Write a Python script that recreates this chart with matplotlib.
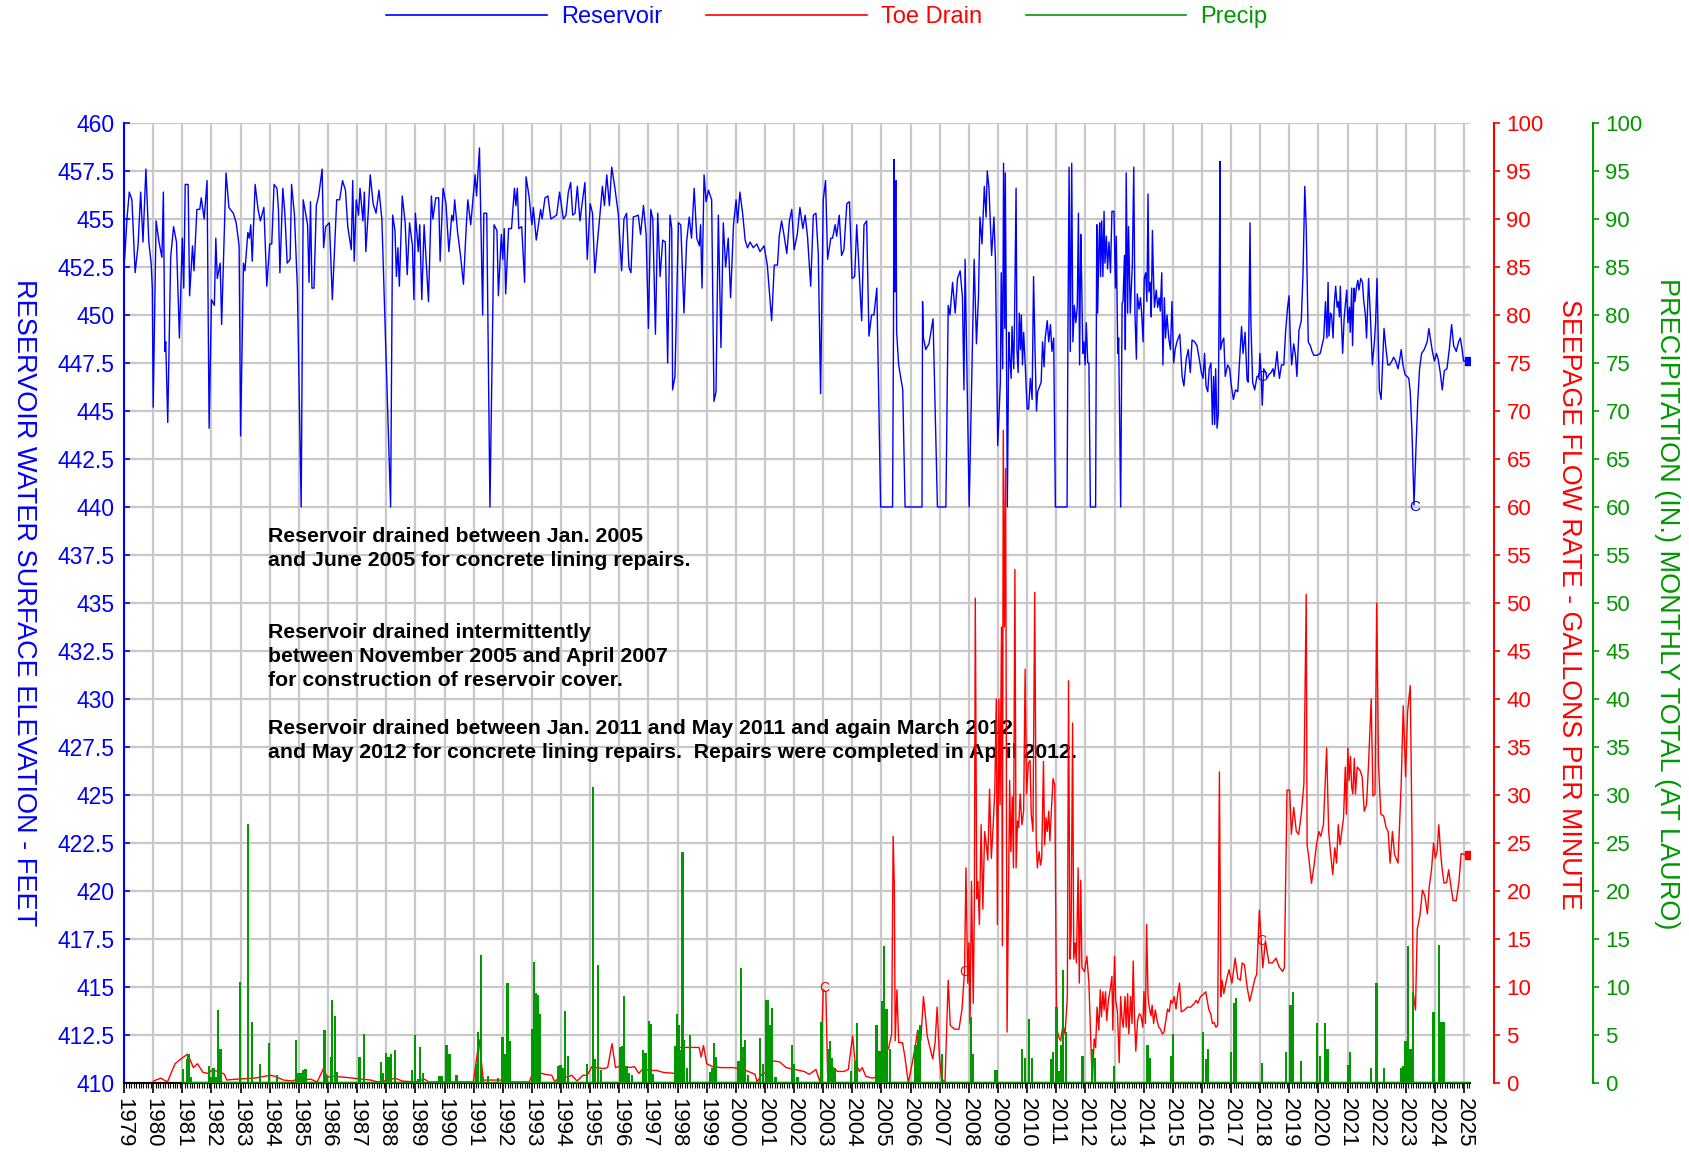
import numpy as np
import matplotlib.pyplot as plt
from matplotlib.lines import Line2D
from matplotlib.ticker import MultipleLocator

plt.rcParams['font.family'] = ['Liberation Sans', 'DejaVu Sans']

BLUE = '#0000ff'
RED = '#ff0000'
GREEN = '#009900'
GRID = '#c8c8c8'

# reservoir water surface elevation (ft)
reservoir = [
    (1979.02, 452.9), (1979.10, 455.0), (1979.18, 456.4), (1979.27, 456.0), (1979.38, 452.2), (1979.48, 453.6),
    (1979.57, 456.4), (1979.65, 453.8), (1979.75, 457.6), (1979.85, 453.8), (1979.93, 452.7), (1979.97, 451.4),
    (1980.00, 445.2), (1980.10, 454.9), (1980.20, 453.8), (1980.30, 453.0), (1980.35, 456.4), (1980.40, 448.1),
    (1980.43, 448.6), (1980.50, 444.4), (1980.60, 453.0), (1980.70, 454.6), (1980.80, 453.8), (1980.90, 448.8),
    (1981.00, 454.0), (1981.05, 451.4), (1981.10, 456.8), (1981.20, 456.8), (1981.25, 451.0), (1981.35, 453.6),
    (1981.40, 452.3), (1981.50, 455.5), (1981.60, 455.5), (1981.65, 456.1), (1981.75, 455.0), (1981.85, 457.0),
    (1981.92, 444.1), (1982.00, 450.8), (1982.10, 450.5), (1982.15, 454.0), (1982.20, 451.9), (1982.30, 452.7),
    (1982.35, 449.5), (1982.50, 457.4), (1982.60, 455.6), (1982.75, 455.3), (1982.85, 454.8), (1982.95, 453.6),
    (1983.00, 443.7), (1983.10, 452.7), (1983.15, 452.3), (1983.25, 454.3), (1983.30, 454.0), (1983.35, 454.7),
    (1983.40, 452.8), (1983.50, 456.8), (1983.60, 455.5), (1983.68, 454.9), (1983.80, 455.6), (1983.90, 451.5),
    (1984.00, 453.7), (1984.07, 453.7), (1984.15, 456.8), (1984.25, 456.6), (1984.30, 455.5), (1984.35, 452.2),
    (1984.45, 456.6), (1984.52, 455.3), (1984.60, 452.7), (1984.70, 452.9), (1984.75, 456.8), (1984.85, 455.2),
    (1984.95, 451.4), (1985.08, 440.0), (1985.15, 456.0), (1985.30, 454.7), (1985.35, 451.7), (1985.40, 455.9),
    (1985.45, 451.4), (1985.52, 451.4), (1985.60, 455.7), (1985.68, 456.2), (1985.80, 457.6), (1985.85, 453.5),
    (1985.92, 454.6), (1986.05, 454.8), (1986.15, 450.8), (1986.30, 456.0), (1986.40, 456.0), (1986.50, 457.0),
    (1986.60, 456.5), (1986.68, 454.6), (1986.80, 453.4), (1986.85, 457.0), (1986.90, 452.8), (1986.97, 456.0),
    (1987.05, 455.2), (1987.10, 456.6), (1987.20, 454.9), (1987.25, 456.4), (1987.30, 453.3), (1987.38, 455.3),
    (1987.45, 457.3), (1987.55, 455.8), (1987.65, 455.3), (1987.75, 456.5), (1987.85, 455.0), (1988.15, 440.0),
    (1988.22, 455.2), (1988.30, 454.4), (1988.35, 452.0), (1988.40, 453.5), (1988.45, 451.5), (1988.55, 456.2),
    (1988.65, 454.8), (1988.72, 452.1), (1988.80, 454.8), (1988.90, 453.6), (1988.95, 450.8), (1989.00, 455.3),
    (1989.10, 453.3), (1989.15, 454.7), (1989.22, 450.8), (1989.30, 454.7), (1989.45, 450.7), (1989.55, 456.2),
    (1989.60, 455.0), (1989.70, 456.1), (1989.80, 456.1), (1989.85, 452.8), (1989.95, 456.6), (1990.05, 455.8),
    (1990.15, 453.3), (1990.25, 455.2), (1990.30, 454.9), (1990.35, 456.0), (1990.45, 454.3), (1990.55, 453.1),
    (1990.65, 451.6), (1990.75, 454.7), (1990.80, 456.0), (1990.90, 454.7), (1991.00, 456.4), (1991.05, 457.3),
    (1991.10, 456.2), (1991.20, 458.7), (1991.31, 450.0), (1991.35, 455.3), (1991.45, 455.3), (1991.56, 440.0),
    (1991.70, 454.7), (1991.80, 454.4), (1991.85, 451.0), (1991.95, 454.2), (1992.00, 452.9), (1992.05, 454.5),
    (1992.10, 451.1), (1992.20, 454.5), (1992.30, 454.5), (1992.40, 456.6), (1992.45, 455.7), (1992.50, 456.6),
    (1992.55, 454.5), (1992.65, 454.6), (1992.75, 451.7), (1992.80, 457.2), (1992.90, 456.2), (1993.00, 454.7),
    (1993.05, 455.6), (1993.15, 453.9), (1993.30, 455.5), (1993.35, 455.0), (1993.45, 456.1), (1993.55, 456.2),
    (1993.65, 455.0), (1993.75, 455.1), (1993.85, 455.2), (1993.95, 456.4),
    (1994.08, 455.0), (1994.17, 455.2), (1994.25, 456.4), (1994.33, 456.9), (1994.40, 455.2), (1994.48, 455.3),
    (1994.56, 456.7), (1994.65, 454.9), (1994.74, 456.0), (1994.82, 456.9), (1994.90, 452.9), (1995.00, 455.8),
    (1995.08, 455.3), (1995.16, 452.2), (1995.25, 453.8), (1995.34, 455.3), (1995.42, 456.7), (1995.49, 455.7),
    (1995.57, 457.3), (1995.66, 455.7), (1995.74, 457.7), (1995.85, 456.6), (1995.97, 455.2), (1996.08, 452.3),
    (1996.16, 455.0), (1996.25, 455.3), (1996.33, 452.5), (1996.40, 452.2), (1996.48, 455.1), (1996.65, 455.2),
    (1996.73, 454.2), (1996.83, 455.7), (1996.92, 454.2), (1997.00, 449.3), (1997.08, 455.5), (1997.15, 455.0),
    (1997.24, 449.0), (1997.32, 455.3), (1997.40, 452.0), (1997.49, 453.9), (1997.58, 453.8), (1997.66, 447.5),
    (1997.74, 455.2), (1997.80, 454.5), (1997.83, 446.1), (1997.91, 446.8), (1998.03, 454.8), (1998.11, 454.7),
    (1998.22, 450.1), (1998.31, 453.8), (1998.40, 455.1), (1998.48, 454.0), (1998.57, 456.6), (1998.66, 454.0),
    (1998.75, 453.6), (1998.79, 454.7), (1998.84, 451.4), (1998.91, 457.3), (1998.98, 455.9), (1999.06, 456.5),
    (1999.17, 456.0), (1999.25, 445.5), (1999.32, 446.0), (1999.40, 455.2), (1999.49, 448.3), (1999.57, 454.8),
    (1999.65, 452.5), (1999.74, 454.0), (1999.82, 450.9), (1999.92, 454.7), (2000.01, 456.0), (2000.06, 454.8),
    (2000.14, 456.4), (2000.24, 455.2), (2000.32, 453.9), (2000.40, 453.5), (2000.49, 453.8), (2000.60, 453.5),
    (2000.72, 453.7), (2000.83, 453.3), (2000.97, 453.6), (2001.08, 452.6), (2001.23, 449.7), (2001.32, 452.6),
    (2001.43, 452.6), (2001.49, 454.1), (2001.57, 454.9), (2001.65, 454.2), (2001.75, 453.2), (2001.84, 454.9),
    (2001.92, 455.5), (2002.00, 453.4), (2002.11, 454.2), (2002.20, 455.6), (2002.30, 454.5), (2002.38, 455.2),
    (2002.46, 454.1), (2002.57, 451.5), (2002.66, 455.2), (2002.75, 455.3), (2002.83, 453.2), (2002.91, 445.9),
    (2003.00, 456.0), (2003.08, 457.0), (2003.15, 452.9), (2003.26, 454.0), (2003.32, 454.0), (2003.41, 454.7),
    (2003.46, 454.1), (2003.55, 455.2), (2003.63, 453.1), (2003.71, 453.4), (2003.81, 455.8), (2003.90, 455.9),
    (2003.99, 451.9), (2004.08, 452.0), (2004.15, 454.7), (2004.32, 449.7), (2004.40, 454.7), (2004.49, 454.9),
    (2004.57, 448.9), (2004.66, 450.0), (2004.74, 450.0), (2004.84, 451.4), (2004.97, 440.0), (2005.38, 440.0),
    (2005.41, 448.6), (2005.43, 458.1), (2005.46, 451.2), (2005.48, 456.6), (2005.50, 457.0), (2005.52, 449.1),
    (2005.59, 447.4), (2005.73, 446.1), (2005.81, 440.0), (2006.39, 440.0), (2006.41, 450.7), (2006.44, 448.8),
    (2006.52, 448.2), (2006.63, 448.5), (2006.77, 449.8), (2006.92, 440.0), (2007.21, 440.0), (2007.29, 450.5),
    (2007.35, 450.0), (2007.44, 451.7), (2007.53, 450.1), (2007.61, 451.9), (2007.70, 452.3), (2007.78, 450.9),
    (2007.83, 446.1), (2007.87, 452.9), (2008.01, 440.0), (2008.18, 452.9), (2008.26, 448.5), (2008.33, 451.0),
    (2008.38, 455.1), (2008.45, 453.7), (2008.53, 456.7), (2008.59, 455.1), (2008.63, 457.5), (2008.69, 456.6),
    (2008.78, 453.1), (2008.86, 455.1), (2008.91, 452.9), (2008.99, 443.2),
    (2009.08, 446.5), (2009.11, 452.2), (2009.16, 447.2), (2009.19, 457.9), (2009.23, 449.3), (2009.25, 457.4),
    (2009.29, 448.2), (2009.32, 440.0), (2009.37, 449.1), (2009.40, 447.9), (2009.45, 446.7), (2009.48, 449.4),
    (2009.54, 447.2), (2009.57, 450.1), (2009.62, 456.6), (2009.65, 448.2), (2009.69, 447.0), (2009.73, 450.1),
    (2009.77, 448.2), (2009.80, 450.0), (2009.84, 447.4), (2009.88, 449.1), (2009.94, 447.2), (2010.00, 445.1),
    (2010.05, 445.1), (2010.11, 446.7), (2010.17, 445.6), (2010.22, 452.0), (2010.27, 448.2), (2010.32, 445.0),
    (2010.36, 446.0), (2010.43, 446.3), (2010.48, 446.5), (2010.53, 448.6), (2010.58, 447.3), (2010.62, 448.8),
    (2010.69, 449.7), (2010.74, 448.6), (2010.80, 449.5), (2010.85, 448.1), (2010.91, 448.8), (2010.97, 440.0),
    (2011.37, 440.0), (2011.40, 449.1), (2011.44, 457.7), (2011.48, 448.1), (2011.53, 457.9), (2011.57, 448.6),
    (2011.62, 450.5), (2011.67, 449.6), (2011.72, 450.4), (2011.76, 455.3), (2011.80, 447.4), (2011.84, 454.2),
    (2011.87, 451.9), (2011.91, 448.0), (2011.95, 448.6), (2011.99, 447.4), (2012.03, 449.6), (2012.08, 447.5),
    (2012.12, 447.5), (2012.17, 440.0), (2012.35, 440.0), (2012.39, 454.7), (2012.42, 450.1), (2012.46, 453.4),
    (2012.49, 454.8), (2012.52, 452.0), (2012.56, 454.9), (2012.60, 452.0), (2012.64, 455.4), (2012.67, 452.7),
    (2012.72, 454.1), (2012.76, 452.4), (2012.81, 453.8), (2012.86, 452.2), (2012.91, 455.4), (2012.98, 455.4),
    (2013.03, 451.4), (2013.06, 454.1), (2013.11, 448.0), (2013.14, 448.8), (2013.21, 440.0), (2013.26, 450.6),
    (2013.29, 450.7), (2013.34, 453.1), (2013.37, 448.2), (2013.40, 457.4), (2013.45, 450.1), (2013.48, 454.6),
    (2013.54, 450.1), (2013.61, 452.6), (2013.66, 457.7), (2013.70, 450.1), (2013.75, 447.7), (2013.78, 451.1),
    (2013.84, 450.3), (2013.89, 450.9), (2013.93, 450.1), (2013.98, 448.6), (2014.02, 451.9), (2014.07, 452.2),
    (2014.11, 450.7), (2014.15, 456.3), (2014.18, 451.2), (2014.23, 451.7), (2014.26, 449.9), (2014.30, 454.4),
    (2014.33, 452.3), (2014.37, 450.4), (2014.43, 451.3), (2014.48, 450.4), (2014.53, 450.9), (2014.57, 450.2),
    (2014.62, 452.2), (2014.66, 447.4), (2014.71, 450.9), (2014.75, 448.8), (2014.80, 450.0), (2014.86, 448.8),
    (2014.92, 448.2), (2014.97, 450.7), (2015.03, 447.5), (2015.08, 448.2), (2015.14, 448.6), (2015.24, 449.0),
    (2015.32, 446.8), (2015.38, 446.3), (2015.46, 447.7), (2015.53, 448.2), (2015.60, 447.0), (2015.66, 448.7),
    (2015.75, 448.6), (2015.83, 448.4), (2015.91, 447.7), (2015.98, 447.0), (2016.04, 446.7), (2016.09, 448.0),
    (2016.14, 446.3), (2016.20, 446.0), (2016.25, 447.2), (2016.31, 447.5), (2016.36, 444.3), (2016.40, 446.8),
    (2016.44, 444.3), (2016.47, 447.2), (2016.52, 444.1), (2016.56, 444.8), (2016.60, 452.7), (2016.62, 458.0),
    (2016.64, 448.2), (2016.69, 448.6), (2016.75, 448.8), (2016.80, 446.8), (2016.88, 447.4), (2016.95, 447.2),
    (2017.01, 446.3), (2017.08, 445.6), (2017.15, 446.1), (2017.23, 446.0), (2017.32, 448.4), (2017.36, 449.4),
    (2017.41, 448.0), (2017.48, 449.1), (2017.55, 446.6), (2017.59, 446.5), (2017.65, 454.8), (2017.68, 449.6),
    (2017.74, 446.5), (2017.81, 446.1), (2017.89, 446.8), (2017.96, 446.8), (2017.99, 448.0), (2018.04, 446.7),
    (2018.07, 445.3), (2018.12, 447.2), (2018.19, 447.0), (2018.23, 446.7), (2018.30, 446.9), (2018.37, 447.0),
    (2018.44, 447.2), (2018.48, 446.8), (2018.53, 447.4), (2018.58, 448.1), (2018.61, 447.4), (2018.66, 446.7),
    (2018.73, 447.4), (2018.81, 447.4), (2018.87, 449.1), (2018.94, 450.4), (2018.99, 451.0), (2019.03, 448.9),
    (2019.08, 447.4), (2019.15, 448.5), (2019.21, 447.9), (2019.26, 446.8), (2019.33, 449.2), (2019.41, 449.7),
    (2019.47, 452.2), (2019.53, 456.7), (2019.58, 454.5), (2019.65, 448.6), (2019.72, 448.4), (2019.78, 448.1),
    (2019.84, 447.9), (2019.95, 447.9), (2020.06, 448.0), (2020.12, 448.4), (2020.18, 448.8), (2020.24, 450.7),
    (2020.29, 448.8), (2020.33, 451.7), (2020.36, 448.9), (2020.41, 450.1), (2020.45, 450.0), (2020.50, 448.8),
    (2020.54, 450.5), (2020.59, 451.5), (2020.64, 450.4), (2020.68, 450.7), (2020.72, 449.9), (2020.75, 451.5),
    (2020.78, 449.9), (2020.83, 448.0), (2020.88, 449.8), (2020.92, 450.5), (2020.97, 451.3), (2021.01, 449.6),
    (2021.06, 450.4), (2021.09, 449.1), (2021.14, 451.4), (2021.17, 448.4), (2021.22, 451.4), (2021.25, 450.7),
    (2021.30, 451.4), (2021.35, 451.8), (2021.39, 451.3), (2021.45, 451.9), (2021.51, 451.7), (2021.55, 450.8),
    (2021.61, 450.0), (2021.65, 448.8), (2021.72, 451.9), (2021.78, 450.0), (2021.85, 447.4), (2021.92, 448.6),
    (2021.96, 449.6), (2022.01, 451.9), (2022.04, 449.6), (2022.09, 446.1), (2022.15, 445.6), (2022.20, 447.4),
    (2022.25, 449.3), (2022.32, 448.2), (2022.38, 447.4), (2022.44, 447.4), (2022.52, 447.6), (2022.58, 447.8),
    (2022.65, 447.6), (2022.73, 447.2), (2022.79, 447.7), (2022.84, 448.2), (2022.90, 447.4), (2022.97, 446.9),
    (2023.04, 446.8), (2023.10, 446.7), (2023.15, 446.0), (2023.21, 443.9), (2023.28, 440.1), (2023.35, 443.2),
    (2023.41, 445.6), (2023.47, 447.2), (2023.54, 448.0), (2023.63, 448.2), (2023.73, 448.6), (2023.79, 449.3),
    (2023.84, 448.8), (2023.91, 448.1), (2023.98, 447.6), (2024.05, 448.0), (2024.11, 447.7), (2024.18, 447.0),
    (2024.25, 446.1), (2024.32, 447.1), (2024.41, 447.2), (2024.49, 448.2), (2024.57, 449.5), (2024.64, 448.4),
    (2024.73, 448.1), (2024.81, 448.6), (2024.87, 448.8), (2024.93, 448.2), (2024.98, 447.6), (2025.15, 447.6),
]

# toe drain seepage flow rate (gpm)
toe_drain = [
    (1980.01, 0.2), (1980.26, 0.5), (1980.49, 0.1), (1980.75, 2.0), (1980.95, 2.5), (1981.18, 3.0),
    (1981.38, 1.6), (1981.52, 2.0), (1981.71, 1.1), (1981.87, 1.0), (1982.02, 1.3), (1982.28, 1.2),
    (1982.44, 0.9), (1982.53, 0.3), (1982.87, 0.4), (1983.48, 0.5), (1984.02, 0.8), (1984.17, 0.7),
    (1984.48, 0.3), (1984.78, 0.2), (1985.01, 0.5), (1985.17, 0.3), (1985.40, 0.4), (1985.63, 0.1),
    (1985.86, 1.6), (1985.96, 0.6), (1986.16, 0.7), (1986.55, 0.6), (1987.16, 0.4), (1987.47, 0.3),
    (1987.70, 0.1), (1988.08, 0.3), (1988.31, 0.5), (1988.54, 0.2), (1989.00, 0.1), (1989.31, 0.4),
    (1989.46, 0.1), (1990.07, 0.1), (1990.99, 0.1), (1991.19, 4.5), (1991.33, 0.3), (1991.91, 0.3),
    (1992.37, 0.1), (1992.91, 0.1), (1993.06, 1.3), (1993.22, 1.1), (1993.45, 0.9), (1993.68, 0.8),
    (1993.79, 0.1), (1993.98, 0.8), (1994.21, 0.6), (1994.37, 0.8), (1994.55, 0.2), (1994.75, 0.8),
    (1994.90, 0.8), (1995.06, 1.7), (1995.21, 1.6), (1995.44, 1.5), (1995.60, 1.6), (1995.75, 4.1),
    (1995.87, 1.6), (1996.06, 1.8), (1996.36, 1.6), (1996.52, 1.7), (1996.67, 1.0), (1996.82, 1.5),
    (1997.05, 1.3), (1997.28, 1.3), (1997.51, 1.1), (1997.90, 1.0), (1997.93, 3.7), (1998.74, 3.7),
    (1998.81, 2.7), (1998.89, 3.9), (1999.00, 2.0), (1999.20, 1.7), (1999.51, 1.6), (1999.89, 1.6),
    (2000.12, 1.5), (2000.35, 1.3), (2000.66, 0.9), (2000.73, 0.1), (2000.89, 0.9), (2001.04, 1.1),
    (2001.27, 2.3), (2001.50, 2.2), (2001.73, 1.6), (2002.04, 1.4), (2002.34, 1.2), (2002.52, 0.9),
    (2002.75, 1.4), (2002.90, 0.0), (2003.00, 9.7), (2003.09, 9.5), (2003.15, 0.9), (2003.34, 1.6),
    (2003.49, 1.2), (2003.71, 1.2), (2003.86, 1.4), (2004.01, 4.9), (2004.09, 2.3), (2004.24, 1.2),
    (2004.34, 1.6), (2004.46, 0.7), (2004.68, 0.5), (2004.90, 0.7), (2004.98, 0.0), (2005.13, 3.0),
    (2005.25, 3.7), (2005.35, 5.1), (2005.40, 25.7), (2005.44, 20.6), (2005.47, 4.4), (2005.53, 9.7),
    (2005.59, 4.2), (2005.72, 4.2), (2005.80, 2.8), (2005.92, 0.0), (2006.07, 2.3), (2006.17, 4.0),
    (2006.24, 5.5), (2006.35, 4.4), (2006.44, 9.0), (2006.51, 6.9), (2006.57, 4.9), (2006.66, 3.7),
    (2006.76, 2.5), (2006.84, 4.2), (2006.91, 7.9), (2006.99, 2.6), (2007.06, 0.5), (2007.18, 0.0),
    (2007.29, 10.7), (2007.36, 6.0), (2007.51, 5.6), (2007.66, 5.6), (2007.76, 7.6), (2007.85, 11.6),
    (2007.90, 22.4), (2007.96, 10.4), (2008.00, 14.6), (2008.04, 6.2), (2008.09, 21.0), (2008.15, 8.3),
    (2008.19, 19.5), (2008.22, 50.5), (2008.27, 19.2), (2008.31, 21.0), (2008.36, 16.5), (2008.42, 26.9),
    (2008.48, 18.1), (2008.54, 26.2), (2008.60, 24.8), (2008.65, 23.2), (2008.71, 30.6), (2008.77, 23.4),
    (2008.83, 26.6), (2008.89, 30.5), (2008.94, 40.0), (2008.98, 16.5), (2009.03, 40.0), (2009.07, 29.0),
    (2009.12, 47.5), (2009.15, 14.3), (2009.18, 68.0), (2009.22, 47.5), (2009.26, 64.0), (2009.31, 5.3),
    (2009.35, 17.4), (2009.40, 31.5), (2009.44, 24.1), (2009.49, 29.8), (2009.53, 22.4), (2009.58, 53.5),
    (2009.62, 22.4), (2009.67, 27.3), (2009.71, 26.6), (2009.76, 30.1), (2009.82, 26.9), (2009.88, 28.3),
    (2009.93, 43.1), (2009.98, 30.1), (2010.04, 33.3), (2010.10, 33.6), (2010.14, 28.0), (2010.20, 26.2),
    (2010.26, 51.1), (2010.31, 25.5), (2010.35, 22.4), (2010.41, 24.1), (2010.46, 22.7), (2010.50, 23.4),
    (2010.56, 33.5), (2010.60, 24.8), (2010.65, 27.6), (2010.69, 26.2), (2010.74, 28.3), (2010.78, 25.2),
    (2010.83, 28.3), (2010.89, 31.7), (2010.95, 31.0), (2011.01, 5.8), (2011.08, 4.8), (2011.15, 4.4),
    (2011.23, 6.0), (2011.30, 5.1), (2011.38, 9.0), (2011.42, 41.9), (2011.47, 12.9), (2011.51, 15.7),
    (2011.56, 37.5), (2011.60, 12.9), (2011.65, 14.6), (2011.69, 12.5), (2011.75, 22.4), (2011.79, 10.4),
    (2011.84, 21.1), (2011.88, 12.0), (2011.97, 11.6), (2012.05, 13.2), (2012.12, 10.4), (2012.20, 3.0),
    (2012.24, 0.0), (2012.30, 4.6), (2012.35, 3.7), (2012.40, 7.9), (2012.46, 5.5), (2012.51, 9.7),
    (2012.55, 6.9), (2012.60, 9.5), (2012.64, 7.6), (2012.69, 9.5), (2012.73, 6.5), (2012.79, 8.6),
    (2012.85, 9.7), (2012.91, 11.1), (2012.94, 5.5), (2013.00, 13.2), (2013.04, 8.6), (2013.10, 7.4),
    (2013.16, 2.1), (2013.21, 9.0), (2013.25, 6.9), (2013.30, 5.8), (2013.36, 9.0), (2013.40, 5.8),
    (2013.45, 9.3), (2013.49, 5.1), (2013.55, 9.0), (2013.60, 6.2), (2013.64, 12.7), (2013.68, 7.2),
    (2013.73, 3.3), (2013.79, 6.5), (2013.85, 7.2), (2013.91, 7.0), (2013.97, 5.8), (2014.01, 9.5),
    (2014.06, 6.2), (2014.10, 16.5), (2014.15, 9.0), (2014.19, 7.9), (2014.25, 7.0), (2014.29, 8.1),
    (2014.34, 6.2), (2014.40, 7.6), (2014.46, 6.5), (2014.52, 5.8), (2014.58, 5.6), (2014.64, 5.1),
    (2014.70, 5.3), (2014.76, 6.5), (2014.82, 7.7), (2014.88, 7.4), (2014.93, 8.6), (2014.99, 8.3),
    (2015.05, 9.0), (2015.11, 7.7), (2015.17, 9.3), (2015.23, 10.4), (2015.29, 7.4), (2015.40, 7.6),
    (2015.50, 7.9), (2015.62, 7.9), (2015.74, 8.3), (2015.80, 8.6), (2015.86, 8.3), (2015.95, 9.0),
    (2016.04, 9.2), (2016.13, 9.5), (2016.18, 8.6), (2016.24, 7.6), (2016.30, 7.2), (2016.36, 6.2),
    (2016.42, 6.3), (2016.48, 5.8), (2016.54, 6.0), (2016.60, 32.4), (2016.65, 9.0), (2016.69, 10.7),
    (2016.75, 9.3), (2016.84, 10.7), (2016.93, 11.8), (2017.03, 10.4), (2017.14, 13.0), (2017.23, 10.9),
    (2017.32, 10.7), (2017.38, 12.5), (2017.46, 12.3), (2017.55, 10.0), (2017.64, 8.5), (2017.73, 9.7),
    (2017.82, 10.9), (2017.88, 11.3), (2017.97, 18.0), (2018.03, 15.0), (2018.09, 12.0), (2018.18, 14.8),
    (2018.30, 12.5), (2018.42, 12.5), (2018.54, 13.0), (2018.65, 12.1), (2018.77, 11.6), (2018.83, 12.0),
    (2018.92, 30.5), (2019.01, 30.5), (2019.07, 25.9), (2019.15, 28.7), (2019.24, 26.2), (2019.32, 25.9),
    (2019.41, 28.0), (2019.50, 31.2), (2019.58, 50.9), (2019.61, 24.8), (2019.67, 23.4), (2019.76, 20.8),
    (2019.85, 22.7), (2019.93, 24.8), (2020.01, 26.2), (2020.08, 25.7), (2020.17, 26.9), (2020.28, 34.9),
    (2020.35, 26.2), (2020.41, 24.1), (2020.49, 21.7), (2020.56, 24.5), (2020.62, 22.9), (2020.68, 26.9),
    (2020.74, 24.8), (2020.80, 26.2), (2020.86, 27.6), (2020.92, 32.9), (2020.96, 28.0), (2021.01, 34.9),
    (2021.05, 31.5), (2021.10, 34.0), (2021.14, 30.8), (2021.18, 30.1), (2021.23, 33.8), (2021.27, 30.1),
    (2021.33, 32.9), (2021.42, 32.6), (2021.50, 31.9), (2021.57, 28.3), (2021.65, 29.0), (2021.72, 33.3),
    (2021.81, 40.0), (2021.87, 29.9), (2021.94, 30.1), (2022.00, 50.0), (2022.06, 33.3), (2022.14, 28.0),
    (2022.24, 27.8), (2022.32, 26.6), (2022.39, 26.2), (2022.46, 22.9), (2022.54, 26.2), (2022.61, 23.8),
    (2022.73, 22.9), (2022.84, 31.2), (2022.91, 39.3), (2022.99, 31.9), (2023.06, 38.7), (2023.15, 41.4),
    (2023.21, 26.2), (2023.25, 9.5), (2023.33, 7.6), (2023.39, 16.0), (2023.48, 17.4), (2023.57, 20.1),
    (2023.65, 19.5), (2023.74, 17.6), (2023.80, 20.4), (2023.88, 22.2), (2023.95, 25.0), (2024.01, 23.4),
    (2024.07, 24.1), (2024.13, 26.9), (2024.19, 24.1), (2024.24, 22.4), (2024.31, 20.8), (2024.40, 20.9),
    (2024.47, 22.2), (2024.55, 20.4), (2024.62, 19.0), (2024.73, 19.0), (2024.82, 20.9), (2024.90, 23.9),
    (2025.01, 23.8), (2025.15, 23.7),
]

# monthly precipitation (in.), non-zero months only
precip = [
    (1981.01, 1.5), (1981.15, 2.5), (1981.21, 3.0), (1981.29, 0.6), (1981.91, 1.8), (1981.99, 0.6),
    (1982.07, 1.6), (1982.14, 0.6), (1982.22, 7.6), (1982.31, 3.5), (1982.99, 10.5), (1983.25, 27.0),
    (1983.40, 6.3), (1983.66, 2.0), (1983.98, 4.2), (1984.25, 0.8), (1984.90, 4.5), (1984.98, 1.0),
    (1985.06, 1.0), (1985.13, 1.3), (1985.23, 1.5), (1985.86, 5.5), (1985.90, 5.5), (1985.98, 0.8),
    (1986.09, 2.7), (1986.15, 8.6), (1986.25, 7.0), (1986.32, 1.1), (1987.08, 2.7), (1987.24, 5.1),
    (1987.82, 2.2), (1987.90, 1.0), (1988.00, 3.1), (1988.08, 2.7), (1988.16, 3.0), (1988.31, 3.4),
    (1988.89, 1.3), (1989.00, 5.0), (1989.09, 0.4), (1989.15, 3.7), (1989.25, 1.0), (1989.83, 0.7),
    (1989.92, 0.7), (1990.07, 4.0), (1990.17, 3.0), (1990.41, 0.8), (1991.09, 2.0), (1991.16, 5.3),
    (1991.24, 13.3), (1991.33, 0.6), (1991.48, 0.7), (1991.84, 0.5), (1991.99, 4.8), (1992.08, 3.0),
    (1992.16, 10.4), (1992.25, 4.4), (1992.99, 5.6), (1993.08, 12.6), (1993.14, 9.4), (1993.20, 9.2),
    (1993.26, 7.2), (1993.91, 1.8), (1993.98, 1.9), (1994.06, 1.6), (1994.15, 7.5), (1994.25, 2.8),
    (1994.90, 2.0), (1995.09, 30.8), (1995.15, 2.5), (1995.26, 12.3), (1995.37, 1.3), (1996.02, 3.7),
    (1996.09, 3.8), (1996.16, 9.1), (1996.25, 1.8), (1996.33, 1.0), (1996.44, 0.8), (1996.82, 3.4),
    (1996.90, 3.1), (1997.01, 6.5), (1997.08, 6.1), (1997.17, 0.9), (1997.90, 3.9), (1997.99, 7.2),
    (1998.06, 6.0), (1998.13, 3.4), (1998.17, 24.1), (1998.23, 4.5), (1998.33, 1.6), (1998.42, 5.0),
    (1999.12, 1.1), (1999.20, 1.6), (1999.25, 4.2), (1999.32, 2.7), (2000.09, 2.3), (2000.17, 12.0),
    (2000.24, 3.7), (2000.32, 4.5), (2000.41, 0.8), (2000.84, 4.7), (2000.92, 2.0), (2001.04, 8.6),
    (2001.10, 8.6), (2001.16, 6.0), (2001.25, 7.8), (2001.36, 0.6), (2001.93, 4.0), (2002.01, 2.0),
    (2002.12, 0.6), (2002.94, 6.3), (2003.16, 3.5), (2003.24, 4.4), (2003.31, 2.6), (2003.39, 1.6),
    (2003.94, 1.2), (2004.09, 2.3), (2004.16, 6.2), (2004.83, 6.0), (2004.93, 3.3), (2005.01, 8.5),
    (2005.10, 14.3), (2005.17, 7.7), (2005.28, 3.5), (2006.17, 4.0), (2006.24, 5.5), (2006.32, 6.0),
    (2007.09, 3.0), (2008.07, 6.9), (2008.15, 3.0), (2008.89, 1.4), (2008.97, 1.4), (2009.82, 3.5),
    (2009.93, 2.6), (2010.07, 6.7), (2010.16, 2.6), (2010.81, 2.5), (2010.90, 3.2), (2011.01, 7.9),
    (2011.08, 1.2), (2011.15, 4.0), (2011.24, 11.8), (2011.33, 5.3), (2011.90, 2.8), (2012.24, 3.5),
    (2012.32, 2.6), (2012.97, 1.8), (2014.13, 4.0), (2014.22, 2.6), (2014.95, 2.8), (2015.02, 5.1),
    (2016.04, 5.3), (2016.14, 2.5), (2016.21, 3.5), (2017.00, 3.2), (2017.09, 8.3), (2017.17, 8.8),
    (2018.07, 2.1), (2018.89, 3.2), (2019.04, 8.1), (2019.12, 9.5), (2019.41, 2.3), (2019.96, 6.2),
    (2020.04, 2.8), (2020.23, 6.2), (2020.31, 3.5), (2021.01, 1.9), (2021.08, 3.2), (2021.79, 1.6),
    (2021.99, 10.4), (2022.24, 1.6), (2022.82, 1.6), (2022.91, 1.8), (2022.99, 4.4), (2023.06, 14.3),
    (2023.12, 3.5), (2023.18, 3.5), (2023.24, 9.5), (2023.95, 7.4), (2024.13, 14.4), (2024.22, 6.3),
    (2024.31, 6.3),
]

years = list(range(1979, 2026))
elev_ticks = np.arange(410, 460.01, 2.5)
rate_ticks = np.arange(0, 100.01, 5)

notes = [
    (438.44, 'Reservoir drained between Jan. 2005'),
    (437.20, 'and June 2005 for concrete lining repairs.'),
    (433.45, 'Reservoir drained intermittently'),
    (432.21, 'between November 2005 and April 2007'),
    (430.98, 'for construction of reservoir cover.'),
    (428.46, 'Reservoir drained between Jan. 2011 and May 2011 and again March 2012'),
    (427.22, 'and May 2012 for concrete lining repairs.  Repairs were completed in April 2012.'),
]

res_x, res_y = zip(*reservoir)
toe_x, toe_y = zip(*toe_drain)
pr_x, pr_y = zip(*precip)

fig = plt.figure(figsize=(16.9, 11.57), dpi=100)
ax = fig.add_axes([0.0734, 0.064, 0.7964, 0.8297])
ax.set_xlim(1979, 2025.2)
ax.set_ylim(410, 460)
ax.set_xticks(years)
ax.set_xticklabels([str(y) for y in years], rotation=270, fontsize=16)
ax.xaxis.set_minor_locator(MultipleLocator(1 / 12))
ax.set_yticks(elev_ticks)
ax.set_yticklabels([f'{v:g}' for v in elev_ticks])
ax.grid(True, which='major', color=GRID, lw=1.6)
ax.set_axisbelow(True)
ax.tick_params(axis='x', which='major', direction='out', length=7, width=1.2, pad=4, color='black')
ax.tick_params(axis='x', which='minor', direction='out', length=3.5, width=0.8, color='black')
ax.tick_params(axis='y', direction='in', length=4, width=1.2, pad=7, color=BLUE,
               labelcolor=BLUE, labelsize=16.5)
for s in ['top', 'right']:
    ax.spines[s].set_visible(False)
ax.spines['left'].set_color(BLUE)
ax.spines['left'].set_linewidth(1.5)
ax.spines['bottom'].set_linewidth(1.5)

ax.plot(res_x, res_y, color=BLUE, lw=1.0, zorder=3)
ax.plot([res_x[-1]], [res_y[-1]], marker='s', ms=6, color=BLUE, zorder=4)
ax.text(2018.04, 446.75, 'C', color=BLUE, fontsize=11, ha='center', va='center', zorder=4)
ax.text(2023.3, 440.0, 'C', color=BLUE, fontsize=11, ha='center', va='center', zorder=4)

for y, line in notes:
    ax.text(1983.95, y, line, fontsize=15.3, fontweight='bold', ha='left', va='center', zorder=2)

# seepage axis
ax2 = ax.twinx()
ax2.set_ylim(0, 100)
ax2.set_yticks(rate_ticks)
ax2.set_yticklabels([f'{v:g}' for v in rate_ticks])
ax2.spines['right'].set_position(('axes', 1.0178))
for s in ['left', 'top', 'bottom']:
    ax2.spines[s].set_visible(False)
ax2.spines['right'].set_color(RED)
ax2.spines['right'].set_linewidth(1.5)
ax2.tick_params(axis='y', direction='out', length=4, width=1.2, pad=5, color=RED,
                labelcolor=RED, labelsize=16)
ax2.plot(toe_x, toe_y, color=RED, lw=1.0)
ax2.plot([toe_x[-1]], [toe_y[-1]], marker='s', ms=6, color=RED)
for x, y in [(2003.05, 9.9), (2007.85, 11.6), (2018.03, 14.8)]:
    ax2.text(x, y, 'C', color=RED, fontsize=10, ha='center', va='center')

# precipitation axis
ax3 = ax.twinx()
ax3.set_ylim(0, 100)
ax3.set_yticks(rate_ticks)
ax3.set_yticklabels([f'{v:g}' for v in rate_ticks])
ax3.spines['right'].set_position(('axes', 1.0914))
for s in ['left', 'top', 'bottom']:
    ax3.spines[s].set_visible(False)
ax3.spines['right'].set_color(GREEN)
ax3.spines['right'].set_linewidth(1.5)
ax3.tick_params(axis='y', direction='out', length=4, width=1.2, pad=5, color=GREEN,
                labelcolor=GREEN, labelsize=16)
ax3.bar(pr_x, pr_y, width=0.075, color=GREEN, align='center')
ax3.hlines(0, 1981.0, 2025.2, color=GREEN, lw=2.5)
ax3.set_xlim(1979, 2025.2)

fig.text(24 / 1690, 1 - 603 / 1157, 'RESERVOIR WATER SURFACE ELEVATION - FEET',
         rotation=270, color=BLUE, fontsize=19.5, ha='center', va='center')
fig.text(1569 / 1690, 1 - 604 / 1157, 'SEEPAGE FLOW RATE - GALLONS PER MINUTE',
         rotation=270, color=RED, fontsize=19.3, ha='center', va='center')
fig.text(1667 / 1690, 1 - 604 / 1157, 'PRECIPITATION (IN.) MONTHLY TOTAL (AT LAURO)',
         rotation=270, color=GREEN, fontsize=19.5, ha='center', va='center')

handles = [Line2D([], [], color=BLUE, lw=1.2), Line2D([], [], color=RED, lw=1.2),
           Line2D([], [], color=GREEN, lw=1.2)]
fig.legend(handles, ['Reservoir', 'Toe Drain', 'Precip'], loc='center',
           bbox_to_anchor=(827 / 1690, 1 - 17 / 1157), ncol=3, frameon=False, fontsize=17,
           handlelength=6.8, handletextpad=0.6, columnspacing=1.86,
           labelcolor=[BLUE, RED, GREEN])

fig.savefig('out.png', dpi=100)
